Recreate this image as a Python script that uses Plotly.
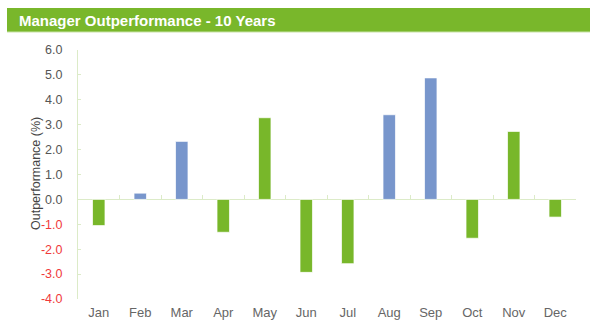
import plotly.graph_objects as go

months = ["Jan", "Feb", "Mar", "Apr", "May", "Jun", "Jul", "Aug", "Sep", "Oct", "Nov", "Dec"]
outperformance = [-1.05, 0.25, 2.33, -1.32, 3.28, -2.93, -2.58, 3.40, 4.88, -1.56, 2.73, -0.71]
highlighted = [False, True, True, False, False, False, False, True, True, False, False, False]
y_ticks = [-4, -3, -2, -1, 0, 1, 2, 3, 4, 5, 6]

GREEN = "#78B72A"
BLUE = "#7896CC"
AXIS = "#DCEBC8"
FONT = "Liberation Sans, Arial, sans-serif"

colors = [BLUE if h else GREEN for h in highlighted]


def tick_label(v):
    s = f"{v:.1f}"
    if v < 0:
        return f"<span style='color:#F0393B'>{s}</span>"
    return s


fig = go.Figure()
fig.add_trace(go.Bar(
    x=months, y=outperformance,
    marker=dict(color=colors, line=dict(color="rgba(255,255,255,0.7)", width=1)),
    width=0.3, showlegend=False, hoverinfo="x+y",
))
# invisible copy on an overlay axis that draws the category ticks along the zero line
fig.add_trace(go.Bar(
    x=months, y=outperformance, xaxis="x2", marker=dict(opacity=0),
    showlegend=False, hoverinfo="skip",
))

L, R, T, B = 78, 24, 50, 37
W, H = 600, 336
pw, ph = W - L - R, H - T - B


def px(x):
    return (x - L) / pw


def py(y):
    return (H - B - y) / ph


fig.update_layout(
    width=W, height=H,
    margin=dict(l=L, r=R, t=T, b=B),
    plot_bgcolor="white", paper_bgcolor="white",
    font=dict(family=FONT, size=13, color="#555555"),
    bargap=0.7,
    xaxis=dict(
        type="category", categoryarray=months, range=[-0.5, 11.5],
        showline=False, showgrid=False, zeroline=False, ticks="",
        tickfont=dict(size=13, color="#666666"), ticklabelstandoff=4,
    ),
    xaxis2=dict(
        type="category", categoryarray=months, range=[-0.5, 11.5],
        overlaying="x", anchor="free", position=py(199.4),
        showline=False, showgrid=False, zeroline=False,
        showticklabels=False, ticks="inside", tickson="boundaries",
        ticklen=4, tickcolor=AXIS, tickwidth=1,
    ),
    yaxis=dict(
        range=[-4, 6], tickvals=y_ticks, ticktext=[tick_label(v) for v in y_ticks],
        showline=True, linecolor=AXIS, linewidth=1,
        showgrid=False, zeroline=True, zerolinecolor=AXIS, zerolinewidth=1,
        ticks="inside", ticklen=3, tickcolor=AXIS,
        tickfont=dict(size=12.5, color="#555555"), ticklabelstandoff=12,
    ),
    shapes=[
        dict(type="rect", xref="paper", yref="paper",
             x0=px(7), x1=px(590), y0=py(32), y1=py(8),
             fillcolor="#79B72B", line=dict(width=0), layer="below"),
        dict(type="line", xref="paper", yref="paper",
             x0=px(7), x1=px(590), y0=py(32), y1=py(32),
             line=dict(color="#C9E2A8", width=1)),
    ],
    annotations=[
        dict(text="<b>Manager Outperformance - 10 Years</b>", xref="paper", yref="paper",
             x=px(17), y=py(20.5), xanchor="left", yanchor="middle", showarrow=False,
             font=dict(family=FONT, size=15, color="white")),
        dict(text="Outperformance (%)", xref="paper", yref="paper",
             x=px(36), y=py(174), xanchor="center", yanchor="middle", showarrow=False,
             textangle=-90, font=dict(family=FONT, size=12.5, color="#444444")),
    ],
)

fig.write_html("out.html")
